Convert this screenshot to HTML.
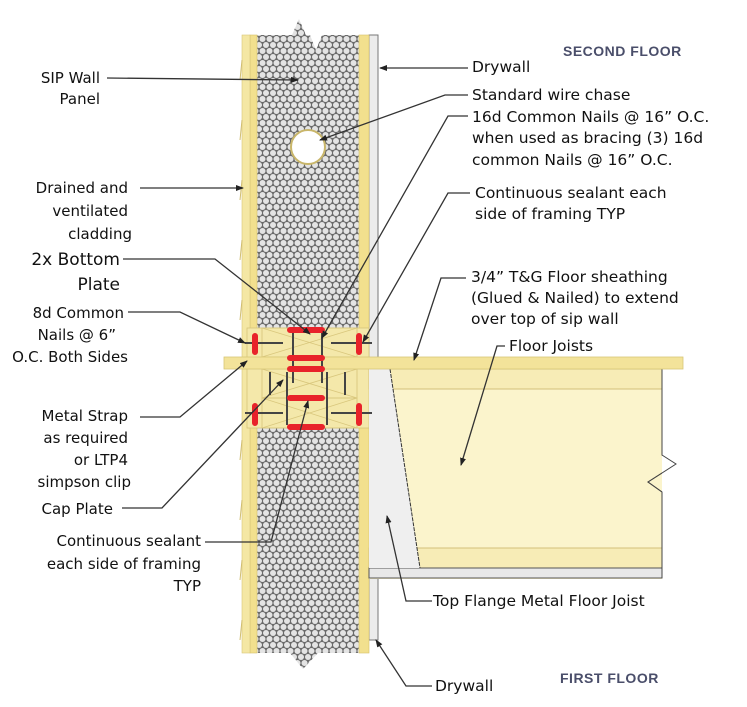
<!DOCTYPE html>
<html><head><meta charset="utf-8">
<style>
html,body{margin:0;padding:0;background:#fff;}
svg{display:block;}
text{font-family:"DejaVu Sans","Liberation Sans",sans-serif;font-size:15px;fill:#111;}
.r{text-anchor:end;}
.big{font-size:17px;}
.rt{font-size:15.5px;}
.fl{font-family:"Liberation Sans",sans-serif;font-size:14px;font-weight:bold;fill:#4a4e6a;letter-spacing:0.5px;}
.ld{stroke:#333;stroke-width:1.3;fill:none;}
</style></head><body>
<svg width="747" height="707" viewBox="0 0 747 707" xmlns="http://www.w3.org/2000/svg">
<defs>
<pattern id="foam" width="7" height="12" patternUnits="userSpaceOnUse">
<rect width="7" height="12" fill="#6a6a6a"/>
<circle cx="3.5" cy="3" r="3" fill="#e4e4e4"/>
<circle cx="0" cy="9" r="3" fill="#e4e4e4"/>
<circle cx="7" cy="9" r="3" fill="#e4e4e4"/>
</pattern>
<marker id="ah" markerWidth="8" markerHeight="8" refX="7" refY="4" orient="auto" markerUnits="userSpaceOnUse">
<path d="M0,1 L8,4 L0,7 z" fill="#222"/>
</marker>
</defs>

<rect x="369" y="35" width="9" height="605" fill="#ececec" stroke="#777" stroke-width="1"/>
<polygon points="256,35 292,35 299,19 306,35 310,35 316,50 322,35 360,35 360,328 256,328" fill="url(#foam)"/>
<polygon points="256,428 360,428 360,653 318,653 303,669 290,653 256,653" fill="url(#foam)"/>
<circle cx="308" cy="147" r="17" fill="#fff" stroke="#c9b66a" stroke-width="2"/>
<rect x="250" y="35" width="7" height="618" fill="#f2e08e" stroke="#d6c26a" stroke-width="0.6"/>
<rect x="359" y="35" width="10" height="618" fill="#f2e08e" stroke="#d6c26a" stroke-width="0.6"/>
<rect x="242" y="35" width="8" height="618" fill="#f4e7a4" stroke="#d8c77a" stroke-width="0.6"/>
<g stroke="#d0bd70" stroke-width="1">
<path d="M242,60 l-2,20 M242,120 l-2,20 M242,180 l-2,20 M242,240 l-2,20 M242,300 l-2,20 M242,440 l-2,20 M242,500 l-2,20 M242,560 l-2,20 M242,620 l-2,20"/>
</g>
<rect x="247" y="328" width="122" height="100" fill="#f4e8aa" stroke="#d5c47a" stroke-width="0.8"/>
<g stroke="#d9c77d" stroke-width="0.9" fill="none">
<rect x="262" y="328" width="95" height="29"/>
<path d="M262,328 L357,357 M357,328 L262,357"/>
<rect x="262" y="369" width="95" height="29"/>
<path d="M262,369 L357,398 M357,369 L262,398"/>
<rect x="262" y="398" width="95" height="30"/>
<path d="M262,398 L357,428 M357,398 L262,428"/>
</g>
<rect x="369" y="369" width="293" height="210" fill="#fbf4cc"/>
<rect x="369" y="369" width="293" height="20" fill="#f7ecb6" stroke="#d3c07a" stroke-width="1"/>
<rect x="369" y="548" width="293" height="20" fill="#f7ecb6" stroke="#d3c07a" stroke-width="1"/>
<rect x="369" y="568" width="293" height="10" fill="#e8e8e8" stroke="#555" stroke-width="1"/>
<polygon points="369,369 390,369 420,568 369,568" fill="#efefef"/>
<line x1="390" y1="369" x2="420" y2="568" stroke="#333" stroke-width="1" stroke-dasharray="4,1"/>
<path d="M662,369 L662,455 L676,464 L648,482 L662,492 L662,578" fill="#fbf4cc" stroke="#444" stroke-width="1"/>
<rect x="662" y="440" width="30" height="70" fill="#fff"/>
<path d="M662,440 L662,455 L676,464 L648,482 L662,492 L662,510" fill="none" stroke="#444" stroke-width="1"/>
<rect x="224" y="357" width="459" height="12" fill="#f3e39a" stroke="#d8c678" stroke-width="0.8"/>

<g stroke="#444" stroke-width="2" fill="none">
<path d="M245,343 H283 M331,343 H372 M245,413 H283 M331,413 H372"/>
<path d="M293,333 V383 M322,333 V383 M270,372 V395 M345,372 V395 M287,372 V425 M327,372 V425"/>
</g>
<g stroke="#e8232a" stroke-width="6" stroke-linecap="round">
<path d="M290,330 H322 M290,358 H322 M290,369 H322 M290,398 H322 M290,427 H322"/>
<path d="M255,336 V352 M359,336 V352 M255,406 V423 M359,406 V423"/>
</g>

<g class="ld" marker-end="url(#ah)">
<path d="M107,78 L298,80"/>
<path d="M140,188 L243,188"/>
<path d="M123,259 L215,259 L310,334"/>
<path d="M128,312 L180,312 L245,343"/>
<path d="M140,417 L180,417 L247,361"/>
<path d="M122,508 L162,508 L283,380"/>
<path d="M205,542 L271,542 L308,401"/>
<path d="M468,68 L380,68"/>
<path d="M468,95 L445,95 L320,140"/>
<path d="M468,116 L448,116 L322,338"/>
<path d="M470,193 L448,193 L363,342"/>
<path d="M466,278 L441,278 L414,360"/>
<path d="M505,346 L497,346 L461,465"/>
<path d="M432,601 L406,601 L387,516"/>
<path d="M432,686 L406,686 L376,640"/>
</g>

<text class="r" x="100" y="83">SIP Wall</text>
<text class="r" x="100" y="104">Panel</text>
<text class="r" x="128" y="193">Drained and</text>
<text class="r" x="128" y="216">ventilated</text>
<text class="r" x="132" y="239">cladding</text>
<text class="r big" x="120" y="265">2x Bottom</text>
<text class="r big" x="120" y="290">Plate</text>
<text class="r" x="124" y="318">8d Common</text>
<text class="r" x="116" y="340">Nails @ 6”</text>
<text class="r" x="128" y="362">O.C. Both Sides</text>
<text class="r" x="128" y="421">Metal Strap</text>
<text class="r" x="128" y="443">as required</text>
<text class="r" x="128" y="465">or LTP4</text>
<text class="r" x="131" y="487">simpson clip</text>
<text class="r" x="113" y="514">Cap Plate</text>
<text class="r" x="201" y="546">Continuous sealant</text>
<text class="r" x="201" y="569">each side of framing</text>
<text class="r" x="201" y="591">TYP</text>

<text class="fl" x="563" y="56">SECOND FLOOR</text>
<text class="rt" x="472" y="72">Drywall</text>
<text class="rt" x="472" y="100">Standard wire chase</text>
<text class="rt" x="472" y="122">16d Common Nails @ 16” O.C.</text>
<text class="rt" x="472" y="143">when used as bracing (3) 16d</text>
<text class="rt" x="472" y="165">common Nails @ 16” O.C.</text>
<text class="rt" x="475" y="198">Continuous sealant each</text>
<text class="rt" x="475" y="219">side of framing TYP</text>
<text class="rt" x="471" y="282">3/4” T&amp;G Floor sheathing</text>
<text class="rt" x="471" y="303">(Glued &amp; Nailed) to extend</text>
<text class="rt" x="471" y="324">over top of sip wall</text>
<text class="rt" x="509" y="351">Floor Joists</text>
<text class="rt" x="433" y="606">Top Flange Metal Floor Joist</text>
<text class="rt" x="435" y="691">Drywall</text>
<text class="fl" x="560" y="683">FIRST FLOOR</text>
</svg>
</body></html>
